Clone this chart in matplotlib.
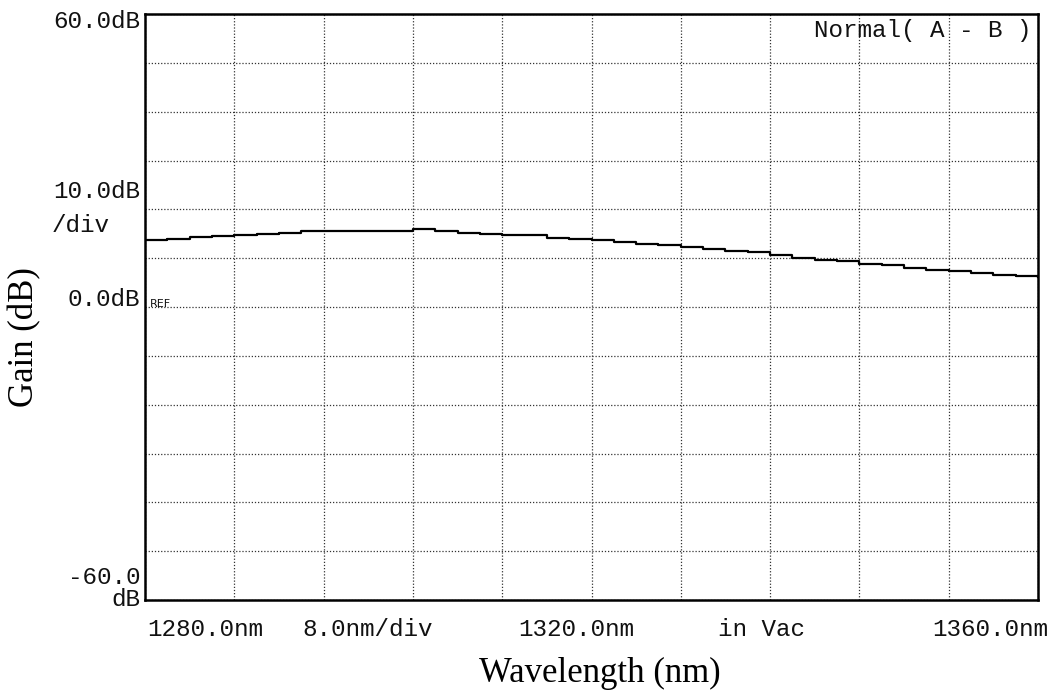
import numpy as np
import matplotlib.pyplot as plt

# OSA trace, Normal(A - B), 8 nm/div, 10 dB/div
wavelength = np.arange(1280, 1361, 2)
gain = [13.8, 14.0, 14.3, 14.6, 14.8, 15.0, 15.2, 15.5, 15.5, 15.5,
        15.5, 15.5, 15.9, 15.6, 15.1, 15.0, 14.8, 14.7, 14.2, 13.9,
        13.8, 13.3, 13.0, 12.7, 12.3, 11.9, 11.5, 11.2, 10.6, 10.1,
        9.7, 9.4, 8.9, 8.5, 8.0, 7.6, 7.3, 6.9, 6.6, 6.3, 6.1]

x_start, x_stop, x_div = 1280, 1360, 8
y_bottom, y_top, y_div = -60, 60, 10

W, H = 1052, 699
fig = plt.figure(figsize=(W / 100, H / 100), dpi=100)
ax = fig.add_axes([145 / W, 1 - 600 / H, (1038 - 145) / W, (600 - 14) / H])

ax.plot(wavelength, gain, drawstyle="steps-post", color="black", lw=1.6)
ax.set_xlim(x_start, x_stop)
ax.set_ylim(y_bottom, y_top)
ax.set_xticks(np.arange(x_start, x_stop + 1, x_div))
ax.set_yticks(np.arange(y_bottom, y_top + 1, y_div))
ax.tick_params(length=0, labelbottom=False, labelleft=False)
ax.grid(True, linestyle=(0, (1, 1.5)), color="#333333", lw=0.9)
for s in ax.spines.values():
    s.set_linewidth(1.8)

mono = dict(family="Liberation Mono", fontsize=17.5, color="#111111")

def px(x, y, s, **kw):
    fig.text(x / W, 1 - y / H, s, **{**mono, **kw})

px(140, 21, "60.0dB", ha="right", va="center")
px(140, 192, "10.0dB", ha="right", va="center")
px(52, 225, "/div", ha="left", va="center")
px(140, 300, "0.0dB", ha="right", va="center")
px(150, 304, "REF", ha="left", va="center", fontsize=8, family="DejaVu Sans")
px(140, 578, "-60.0", ha="right", va="center")
px(140, 599, "dB", ha="right", va="center")
px(147, 629, "1280.0nm", ha="left", va="center")
px(302, 629, "8.0nm/div", ha="left", va="center")
px(518, 629, "1320.0nm", ha="left", va="center")
px(718, 629, "in Vac", ha="left", va="center")
px(1048, 629, "1360.0nm", ha="right", va="center")
px(1032, 30, "Normal( A - B )", ha="right", va="center")

serif = dict(family="Liberation Serif", fontsize=25, color="black")
px(600, 673, "Wavelength (nm)", ha="center", va="center", **serif)
px(25, 337, "Gain (dB)", ha="center", va="center", rotation=90, **serif)

fig.savefig("out.png", dpi=100)
